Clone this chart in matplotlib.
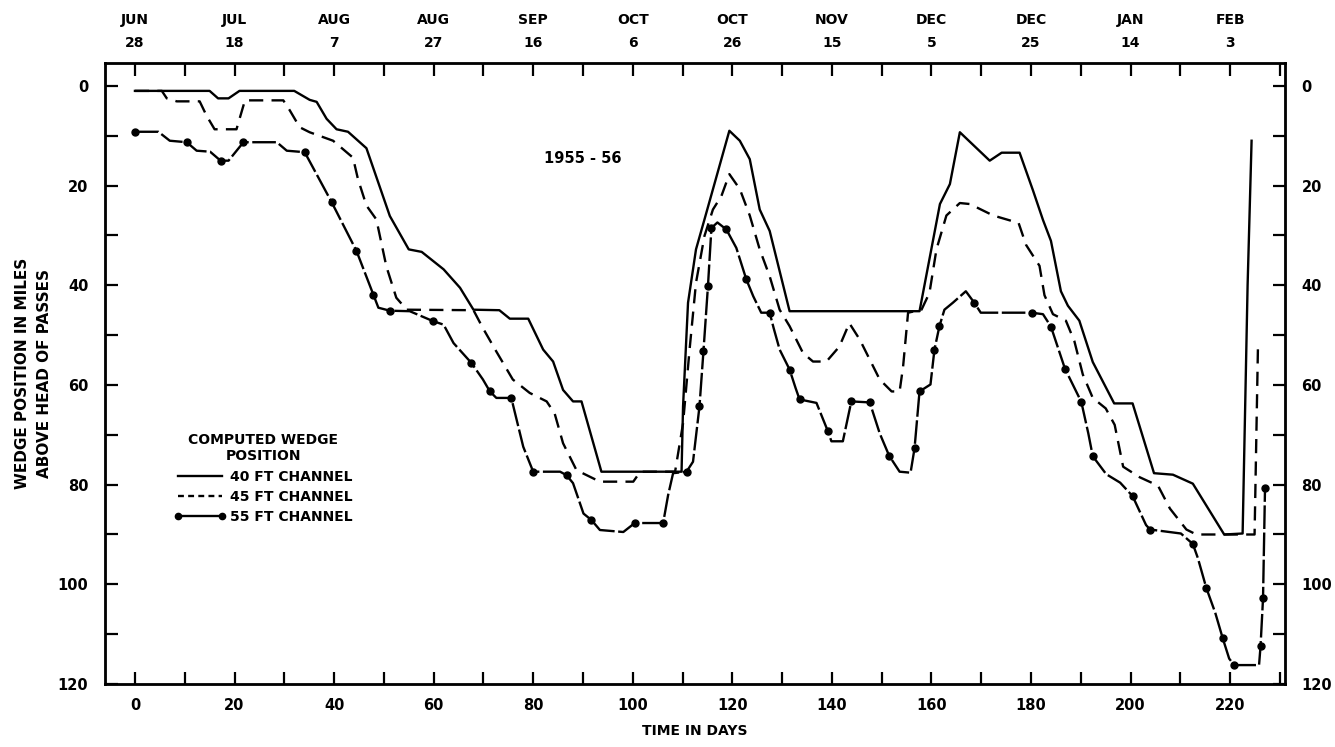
import matplotlib
matplotlib.use("Agg")
import matplotlib.pyplot as plt
from matplotlib.lines import Line2D

# Computed salt-wedge position, 1955-56 season (miles above Head of Passes)
days_40 = [0, 15, 16.7, 18.8, 21, 32, 35.1, 36.5, 38.5, 40.5, 42.8, 46.5, 51.2, 55, 57.6,
           62, 65.3, 68, 73.2, 75.3, 79, 82, 84, 86, 88, 89.7, 93.7, 109.8, 110.1, 111.1,
           112.7, 114.4, 119.4, 121.5, 123.5, 125.5, 127.5, 131.5, 157.6, 161.7, 163.7,
           165.7, 171.7, 174.1, 177.7, 180.4, 182.4, 184, 186, 187.4, 189.7, 192.4, 196.7,
           200.4, 204.7, 208.5, 212.5, 218.8, 222.5, 223.5, 224.3]
miles_40 = [1, 1, 2.5, 2.5, 1, 1, 2.8, 3.2, 6.6, 8.7, 9.2, 12.5, 26.1, 32.8, 33.3,
            36.8, 40.5, 44.9, 45, 46.7, 46.7, 52.9, 55.3, 61, 63.3, 63.3, 77.4, 77.4, 64.3, 43.5,
            32.8, 26.8, 9, 11, 14.7, 24.8, 29.1, 45.2, 45.2, 23.7, 19.7,
            9.3, 15, 13.4, 13.4, 21, 26.9, 31.1, 41.2, 44.1, 47.1, 55.4, 63.7,
            63.7, 77.7, 78, 79.8, 90, 89.8, 40, 11]

days_45 = [0, 5.4, 6.4, 8.4, 13, 14.4, 16, 20.4, 22.1, 29.8, 31.1, 33.1, 35.1, 39.8, 41.8,
           43.8, 44.8, 46.5, 48.5, 50.5, 52.5, 54.6, 68, 69.9, 72.6, 75.9, 79.3, 82.7, 84.3,
           86, 88.7, 93.4, 100.1, 101.5, 108.5, 110.1, 111.4, 112.7, 114.4, 116.1, 117.8,
           119.4, 121.5, 123.5, 125.5, 127.5, 129.5, 131.5, 134.2, 136.2, 138.9, 141.5, 143.5,
           145.6, 147.6, 149.6, 152, 153.6, 154.3, 155.3, 158, 159.6, 161, 163, 165.7, 167.7,
           172.4, 177.5, 179, 181.7, 182.7, 184.4, 187, 188.7, 190.4, 192.4, 195, 196.8, 198.5,
           201.8, 205.5, 207.9, 211.2, 213.2, 224.9, 225.6]
miles_45 = [1, 1, 2.5, 3.1, 3.1, 6, 8.7, 8.7, 2.9, 2.9, 4.9, 8.3, 9.3, 11, 12.7,
            14.4, 18.7, 24, 26.8, 36.2, 42.5, 44.9, 45, 48.6, 53.3, 58.9, 61.6, 63.3, 65.7,
            71.7, 77.1, 79.4, 79.4, 77.4, 77.4, 67.7, 53, 39.5, 30.1, 24.8, 22.1,
            17.7, 20.7, 26, 32.8, 38.2, 44.9, 48.2, 53.6, 55.3, 55.3, 52.3, 47.6,
            50.9, 54.9, 58.9, 61.3, 61.3, 56.3, 45.5, 44.9, 41.5, 32.8, 26, 23.5, 23.7,
            26, 27.5, 31.9, 36.1, 42, 45.8, 47.1, 51.2, 57.9, 62.6, 64.7, 68, 76.4,
            78.5, 80.2, 84.8, 89, 90, 90, 51.2]

days_55 = [0, 4.7, 7, 10.4, 12.4, 15.1, 17.2, 18.8, 21.8, 28.5, 30.5, 34.1, 39.5, 44.5,
           47.9, 48.9, 51.2, 55.2, 59.9, 62, 64, 67.6, 69.9, 71.3, 72.6, 75.6, 78, 80, 85.4,
           86.7, 88, 90.1, 91.7, 93.4, 98.1, 100.4, 106.1, 107.1, 108.1, 110.8, 112.1, 113.4,
           114.2, 115.1, 115.8, 117, 118.8, 120.8, 122.8, 124.2, 125.8, 127.5, 128.3, 129.5,
           131.5, 132.7, 133.5, 136.9, 139.2, 139.9, 142.2, 143.9, 147.6, 149.6, 151.5, 153.6,
           155.8, 156.6, 157.6, 159.8, 160.6, 161.6, 162.6, 164.3, 166.9, 168.6, 169.9, 180.1,
           182.4, 184, 186.8, 190.1, 191.5, 192.4, 195.1, 197.9, 200.4, 203.1, 203.9, 210.1,
           212.5, 213.5, 215.2, 217, 218.5, 219.8, 220.8, 225.8, 226.1, 226.6, 227]
miles_55 = [9.2, 9.2, 11, 11.3, 13, 13.2, 15, 15, 11.3, 11.3, 13, 13.3, 23.3, 33.1,
            41.9, 44.5, 45.1, 45.2, 47.2, 47.9, 51.6, 55.6, 58.9, 61.3, 62.6, 62.6, 72.4, 77.4, 77.4,
            78.1, 79.7, 85.8, 87.1, 89.1, 89.5, 87.7, 87.7, 82.1, 77.7, 77.4, 75.4, 64.3,
            53.2, 40.2, 28.5, 27.4, 28.8, 32.5, 38.8, 42.2, 45.5, 45.5, 48.6, 52.9,
            56.9, 60.6, 62.9, 63.6, 69.3, 71.3, 71.3, 63.3, 63.5, 69.7, 74.2, 77.4,
            77.6, 72.7, 61.3, 59.9, 52.9, 48.2, 44.9, 43.5, 41.2, 43.5, 45.5, 45.5,
            45.8, 48.3, 56.7, 63.4, 69.7, 74.3, 77.9, 79.6, 82.3, 88.1, 89, 89.8,
            91.9, 94.7, 100.7, 105.7, 110.8, 114.9, 116.2, 116.2, 112.4, 102.8, 80.6]

series_labels = ["40 FT CHANNEL", "45 FT CHANNEL", "55 FT CHANNEL"]

day_ticks = [0, 20, 40, 60, 80, 100, 120, 140, 160, 180, 200, 220]
date_labels = ["JUN\n28", "JUL\n18", "AUG\n7", "AUG\n27", "SEP\n16", "OCT\n6",
               "OCT\n26", "NOV\n15", "DEC\n5", "DEC\n25", "JAN\n14", "FEB\n3"]
mile_ticks = [0, 20, 40, 60, 80, 100, 120]

plt.rcParams["font.family"] = ["DejaVu Sans"]
plt.rcParams["font.weight"] = "bold"

fig = plt.figure(figsize=(13.35, 7.47), dpi=100)
ax = fig.add_axes([0.0787, 0.0843, 0.8838, 0.8314])

lw = 1.7
ax.plot(days_40, miles_40, color="black", lw=lw, solid_joinstyle="round")
ax.plot(days_45, miles_45, color="black", lw=lw, linestyle=(0, (6, 3.5)))
ax.plot(days_55, miles_55, color="black", lw=lw, linestyle=(0, (10, 1.5)),
        marker="o", markersize=5, markevery=0.035)

ax.set_xlim(-6, 231)
ax.set_ylim(120, -4.6)

minor_days = list(range(0, 231, 10))
minor_miles = list(range(0, 121, 10))

ax.set_xticks(day_ticks)
ax.set_xticklabels([str(d) for d in day_ticks], fontsize=10.5, fontweight="bold")
ax.set_xticks(minor_days, minor=True)
ax.set_yticks(mile_ticks)
ax.set_yticklabels([str(m) for m in mile_ticks], fontsize=10.5, fontweight="bold")
ax.set_yticks(minor_miles, minor=True)
ax.tick_params(axis="both", which="both", direction="in", length=9, width=1.6)
ax.tick_params(axis="x", which="major", pad=10)
ax.tick_params(axis="y", which="major", pad=12)

for s in ax.spines.values():
    s.set_linewidth(2)

# date scale along the top
top = ax.twiny()
top.set_xlim(ax.get_xlim())
top.set_xticks(day_ticks)
top.set_xticklabels(date_labels, fontsize=10, fontweight="bold", linespacing=1.9)
top.set_xticks(minor_days, minor=True)
top.tick_params(axis="x", which="both", direction="in", length=9, width=1.6, pad=9)

# mirrored mileage scale on the right
right = ax.twinx()
right.set_ylim(ax.get_ylim())
right.set_yticks(mile_ticks)
right.set_yticklabels([str(m) for m in mile_ticks], fontsize=10.5, fontweight="bold")
right.set_yticks(minor_miles, minor=True)
right.tick_params(axis="y", which="both", direction="in", length=9, width=1.6, pad=12)

ax.set_xlabel("TIME IN DAYS", fontsize=10, fontweight="bold", labelpad=8)
ax.set_ylabel("WEDGE POSITION IN MILES\nABOVE HEAD OF PASSES", fontsize=11,
              fontweight="bold", labelpad=4, linespacing=1.6)

ax.text(90, 14.5, "1955 - 56", fontsize=10.5, fontweight="bold", ha="center", va="center")

handles = [
    Line2D([], [], color="black", lw=lw),
    Line2D([], [], color="black", lw=lw, linestyle=(0, (2.5, 1.8))),
    Line2D([], [], color="black", lw=lw, marker="o", markersize=4.5),
]
leg = ax.legend(handles, series_labels, title="COMPUTED WEDGE\nPOSITION",
                loc="upper left", bbox_to_anchor=(0.052, 0.415), frameon=False,
                numpoints=2, handlelength=3.8, handletextpad=0.3, labelspacing=0.45,
                borderpad=0, alignment="center", prop={"size": 10, "weight": "bold"},
                title_fontproperties={"size": 10, "weight": "bold"})
leg.get_title().set_multialignment("center")

fig.savefig("out.png", dpi=100, facecolor="white")
